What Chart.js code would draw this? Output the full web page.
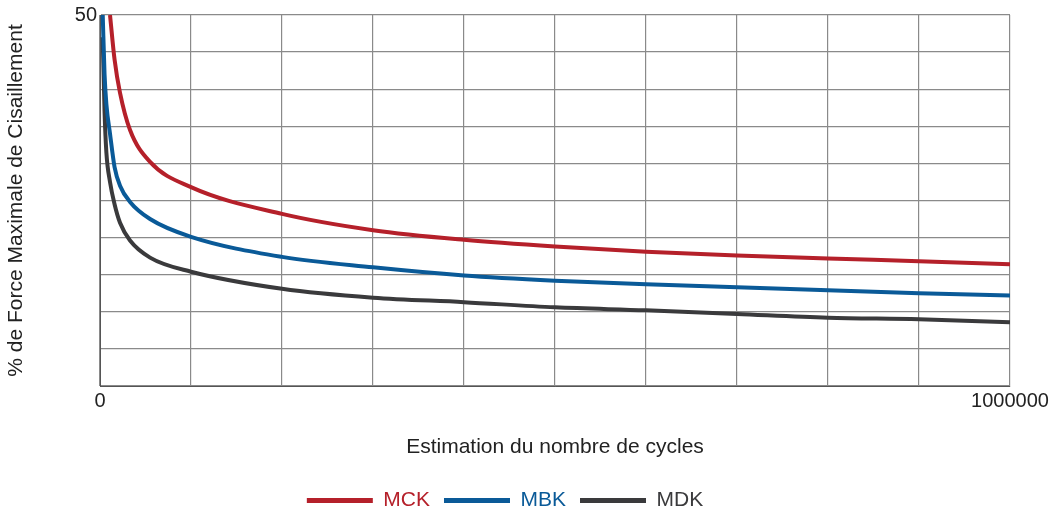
<!DOCTYPE html>
<html><head><meta charset="utf-8">
<script src="https://cdn.jsdelivr.net/npm/chart.js@4/dist/chart.umd.min.js"></script>
<style>html,body{margin:0;background:#fff}#w{width:1056px;height:521px}</style>
</head><body><div id="w"><canvas id="c"></canvas></div>
<script>
const xVals = [3000,5000,7000,11000,16000,22000,33000,55000,100000,200000,300000,400000,500000,600000,700000,800000,900000,1000000];
const mck = [null,null,null,50,44,39.5,34.5,30.2,26.8,23.2,21.0,19.7,18.8,18.1,17.6,17.2,16.8,16.4];
const mbk = [50,42,38,34,29.5,27.0,24.8,22.5,20.1,17.4,16.0,14.9,14.2,13.7,13.3,12.9,12.5,12.2];
const mdk = [47,37,31.5,27.5,24.5,22.0,19.6,17.3,15.4,13.1,11.9,11.3,10.6,10.2,9.7,9.2,9.0,8.6];
const names = ['MCK','MBK','MDK'];
const colors = ['#b5202a','#0a5a98','#3a3a3c'];
const FONT = "'Liberation Sans Narrow','Liberation Sans',Arial,sans-serif";
const mk = arr => xVals.map((x,i)=>({x, y:arr[i]})).filter(p=>p.y!==null);
new Chart(document.getElementById('c'), {
  type:'line',
  data:{datasets:[mck,mbk,mdk].map((a,i)=>({label:names[i],data:mk(a),borderColor:colors[i],backgroundColor:colors[i],borderWidth:4,pointRadius:0,cubicInterpolationMode:'monotone'}))},
  options:{responsive:true,maintainAspectRatio:false,animation:false,
    layout:{padding:{top:12,right:46,left:0,bottom:0}},
    plugins:{tooltip:{enabled:false},
      legend:{position:'bottom',labels:{boxWidth:66,boxHeight:5,padding:14,font:{family:FONT,size:21},
        generateLabels:ch=>ch.data.datasets.map((d,i)=>({text:d.label,fillStyle:colors[i],strokeStyle:colors[i],lineWidth:0,fontColor:colors[i],datasetIndex:i}))}}},
    scales:{
      x:{type:'linear',min:0,max:1000000,afterFit:s=>{s.height=90;},
        ticks:{stepSize:100000,autoSkip:false,maxRotation:0,color:'#222',font:{family:FONT,size:20},callback:v=>(v===0||v===1000000)?String(v):''},
        grid:{color:'#8a8a8a',lineWidth:1.2,drawTicks:false},border:{color:'#555'},
        title:{display:true,text:'Estimation du nombre de cycles',color:'#222',font:{family:FONT,size:21},padding:{top:4,bottom:16}}},
      y:{min:0,max:50,afterFit:s=>{s.width=100;},
        ticks:{stepSize:5,autoSkip:false,color:'#222',font:{family:FONT,size:20},callback:v=>v===50?'50':''},
        grid:{color:'#8a8a8a',lineWidth:1.2,drawTicks:false},border:{color:'#555'},
        title:{display:true,text:'% de Force Maximale de Cisaillement',color:'#222',font:{family:FONT,size:21},padding:{bottom:4}}}
    }}
});
</script></body></html>
